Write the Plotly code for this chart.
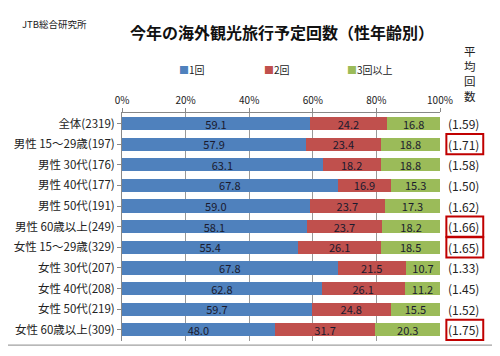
import plotly.graph_objects as go

categories = ["全体(2319)", "男性 15～29歳(197)", "男性 30代(176)", "男性 40代(177)",
              "男性 50代(191)", "男性 60歳以上(249)", "女性 15～29歳(329)", "女性 30代(207)",
              "女性 40代(208)", "女性 50代(219)", "女性 60歳以上(309)"]
once = [59.1, 57.9, 63.1, 67.8, 59.0, 58.1, 55.4, 67.8, 62.8, 59.7, 48.0]
twice = [24.2, 23.4, 18.2, 16.9, 23.7, 23.7, 26.1, 21.5, 26.1, 24.8, 31.7]
three_plus = [16.8, 18.8, 18.8, 15.3, 17.3, 18.2, 18.5, 10.7, 11.2, 15.5, 20.3]
averages = ["1.59", "1.71", "1.58", "1.50", "1.62", "1.66", "1.65", "1.33", "1.45", "1.52", "1.75"]
highlighted = [False, True, False, False, False, True, True, False, False, False, True]
series_names = ["1回", "2回", "3回以上"]
x_ticks = [0, 20, 40, 60, 80, 100]
avg_header = "平均回数"

colors = ["#4F81BD", "#C0504D", "#9BBB59"]
font_fam = "Noto Sans CJK JP, sans-serif"

fig = go.Figure()
for name, vals, col in zip(series_names, [once, twice, three_plus], colors):
    fig.add_trace(go.Bar(
        y=categories, x=vals, name=name, orientation="h",
        marker=dict(color=col, line=dict(width=0)),
        text=[f"{v:.1f}" for v in vals], textposition="inside",
        insidetextanchor="middle", textangle=0,
        textfont=dict(size=11, color="#1a1a2e", family=font_fam),
        showlegend=False,
    ))

# manual legend (text with coloured squares)
legend_x = [0.172, 0.440, 0.701]
for name, col, lx in zip(series_names, colors, legend_x):
    fig.add_annotation(x=lx, xref="paper", y=1.19, yref="paper",
                       text=f'<span style="color:{col}">■</span>{name}', showarrow=False,
                       font=dict(size=10, color="#222", family=font_fam),
                       xanchor="left", yanchor="middle")

# average value annotations
for cat, avg in zip(categories, averages):
    fig.add_annotation(x=1.073, xref="paper", y=cat, yref="y",
                       text=f"({avg})", showarrow=False,
                       font=dict(size=12, color="#222", family=font_fam),
                       xanchor="center", yanchor="middle")

shapes = []
for i, hl in enumerate(highlighted):
    if hl:
        shapes.append(dict(type="rect", xref="paper", yref="y", x0=1.02, x1=1.136,
                           y0=i - 0.49, y1=i + 0.49, line=dict(color="#C00000", width=2),
                           fillcolor="rgba(0,0,0,0)"))
# outer border
shapes.append(dict(type="rect", xref="paper", yref="paper", x0=-0.368, x1=1.176,
                   y0=-0.018, y1=1.482, line=dict(color="#888", width=1)))

fig.add_annotation(x=1.094, xref="paper", y=1.175, yref="paper",
                   text="<br>".join(avg_header), showarrow=False,
                   font=dict(size=11.5, color="#222", family=font_fam),
                   xanchor="center", yanchor="middle")
fig.add_annotation(x=-0.32, xref="paper", y=1.39, yref="paper",
                   text="JTB総合研究所", showarrow=False,
                   font=dict(size=9.5, color="#222", family=font_fam),
                   xanchor="left", yanchor="middle")

fig.update_layout(
    width=500, height=356,
    margin=dict(l=114, r=68, t=105, b=23),
    paper_bgcolor="white", plot_bgcolor="white",
    barmode="stack", bargap=0.36,
    uniformtext=dict(minsize=10, mode="show"),
    showlegend=False,
    title=dict(text="<b>今年の海外観光旅行予定回数（性年齢別）</b>", x=0.548, xanchor="center",
               y=0.93, yanchor="middle",
               font=dict(size=16, color="#111", family=font_fam)),
    xaxis=dict(side="top", range=[0, 100], tickvals=x_ticks,
               ticktext=[f"{t}%" for t in x_ticks], automargin=False,
               showgrid=True, gridcolor="#999", gridwidth=1,
               showline=True, linecolor="#888", ticks="outside", ticklen=4,
               tickcolor="#888", zeroline=False,
               tickfont=dict(size=10, color="#222", family=font_fam)),
    yaxis=dict(autorange="reversed", showline=True, linecolor="#888", automargin=False,
               ticks="outside", ticklen=4, tickcolor="#888",
               tickfont=dict(size=11.5, color="#222", family=font_fam)),
    shapes=shapes,
)
fig.write_html("out.html")
